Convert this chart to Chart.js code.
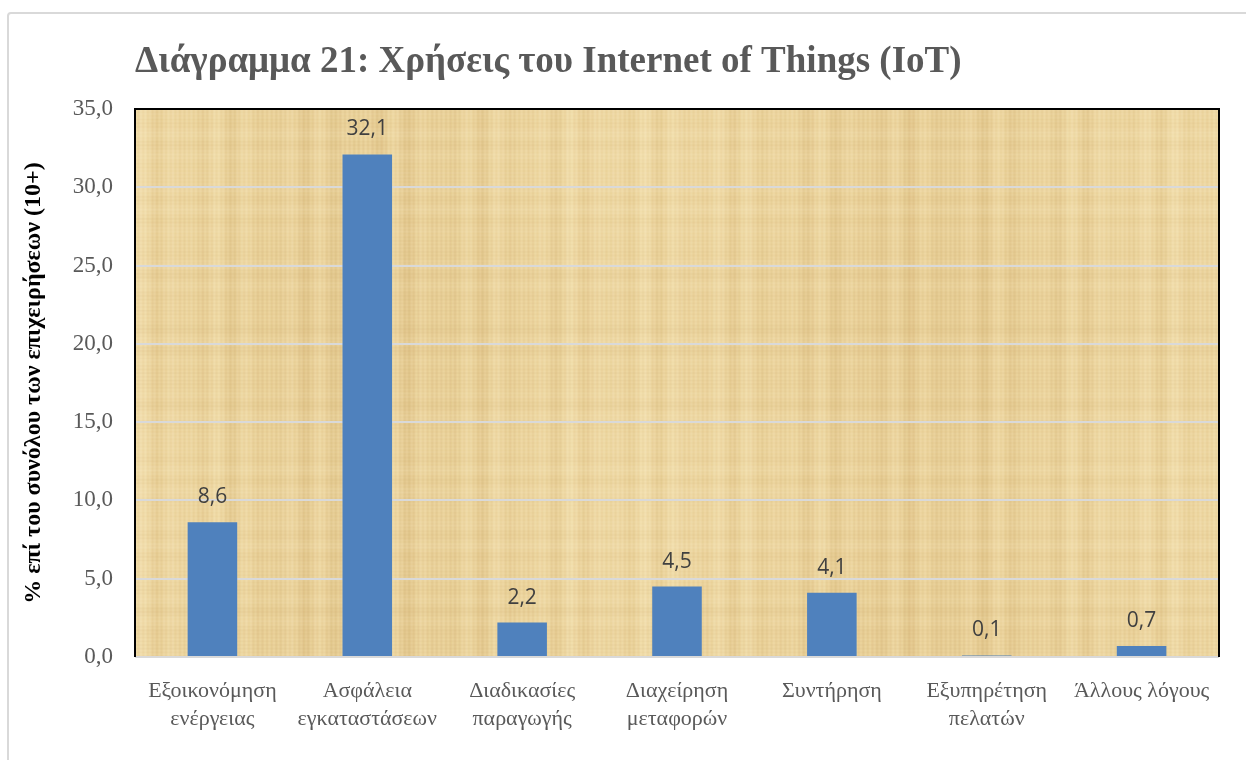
<!DOCTYPE html>
<html>
<head>
<meta charset="utf-8">
<title>Διάγραμμα 21</title>
<script src="https://cdn.jsdelivr.net/npm/chart.js@4.4.1/dist/chart.umd.min.js"></script>
<style>
    html, body { margin: 0; padding: 0; background: #fff; overflow: hidden; }
    #wrap { position: relative; width: 1246px; height: 760px; }
    #frame {
        position: absolute; left: 7px; top: 12px; width: 1300px; height: 800px;
        border: 2px solid #d9d9d9; border-radius: 4px; box-sizing: border-box;
    }
    #chart { position: absolute; left: 0; top: 0; }
</style>
</head>
<body>
<div id="wrap">
    <div id="frame"></div>
    <canvas id="chart" width="1246" height="760"></canvas>
</div>
<script>
// Data
const categories = [
    ['Εξοικονόμηση', 'ενέργειας'],
    ['Ασφάλεια', 'εγκαταστάσεων'],
    ['Διαδικασίες', 'παραγωγής'],
    ['Διαχείρηση', 'μεταφορών'],
    'Συντήρηση',
    ['Εξυπηρέτηση', 'πελατών'],
    'Άλλους λόγους'
];
const shares = [8.6, 32.1, 2.2, 4.5, 4.1, 0.1, 0.7];
const yTickLabels = ['0,0', '5,0', '10,0', '15,0', '20,0', '25,0', '30,0', '35,0'];

const SERIF = "'Liberation Serif', 'Times New Roman', serif";
const SANS = "'Open Sans', 'Liberation Sans', sans-serif";

// papyrus-like background for the plot area (deterministic fibres, no randomness)
function makePapyrus(w, h) {
    const c = document.createElement('canvas');
    c.width = w; c.height = h;
    const g = c.getContext('2d');
    g.fillStyle = '#ebd39c';
    g.fillRect(0, 0, w, h);
    // vertical fibres, fine grain
    for (let x = 0; x < w; x++) {
        const s = 0.55 * Math.sin(x * 0.213) * Math.sin(x * 0.037 + 1.3)
            + 0.3 * Math.sin(x * 1.37 + 0.4) + 0.3 * Math.sin(x * 0.0113 + 2.1);
        if (s > 0) g.fillStyle = 'rgba(252, 240, 200, ' + (0.38 * s).toFixed(3) + ')';
        else g.fillStyle = 'rgba(185, 142, 72, ' + (-0.2 * s).toFixed(3) + ')';
        g.fillRect(x, 0, 1, h);
    }
    // horizontal weave
    for (let y = 0; y < h; y++) {
        const s = 0.5 * Math.sin(y * 0.29 + 0.7) * Math.sin(y * 0.047)
            + 0.3 * Math.sin(y * 1.71) + 0.2 * Math.sin(y * 0.019 + 0.5);
        if (s > 0) g.fillStyle = 'rgba(255, 246, 215, ' + (0.16 * s).toFixed(3) + ')';
        else g.fillStyle = 'rgba(180, 138, 68, ' + (-0.1 * s).toFixed(3) + ')';
        g.fillRect(0, y, w, 1);
    }
    return c;
}

const plotDecor = {
    id: 'plotDecor',
    beforeDraw(chart) {
        const { ctx, chartArea: a } = chart;
        if (!chart._papyrus || chart._papyrus.width !== Math.round(a.width)) {
            chart._papyrus = makePapyrus(Math.round(a.width), Math.round(a.height));
        }
        ctx.drawImage(chart._papyrus, a.left, a.top, a.width, a.height);
    },
    afterDraw(chart) {
        const { ctx, chartArea: a } = chart;
        ctx.save();
        ctx.strokeStyle = '#000';
        ctx.lineWidth = 2;
        ctx.beginPath();
        ctx.moveTo(a.left, a.bottom);
        ctx.lineTo(a.left, a.top);
        ctx.lineTo(a.right, a.top);
        ctx.lineTo(a.right, a.bottom);
        ctx.stroke();
        ctx.restore();
    }
};

const valueLabels = {
    id: 'valueLabels',
    afterDatasetsDraw(chart) {
        const ctx = chart.ctx;
        const meta = chart.getDatasetMeta(0);
        ctx.save();
        ctx.font = '21px ' + SANS;
        ctx.fillStyle = '#404040';
        ctx.textAlign = 'center';
        ctx.textBaseline = 'middle';
        meta.data.forEach((bar, i) => {
            const txt = shares[i].toFixed(1).replace('.', ',');
            ctx.fillText(txt, bar.x, bar.y - 25);
        });
        ctx.restore();
    }
};

const ctx = document.getElementById('chart').getContext('2d');
new Chart(ctx, {
    type: 'bar',
    data: {
        labels: categories,
        datasets: [{
            data: shares,
            backgroundColor: '#4f81bd',
            borderWidth: 0,
            barPercentage: 0.32,
            categoryPercentage: 1.0
        }]
    },
    options: {
        responsive: false,
        animation: false,
        layout: { padding: { left: 0, right: 27, top: 0, bottom: 0 } },
        plugins: {
            legend: { display: false },
            tooltip: { enabled: false },
            title: {
                display: true,
                text: 'Διάγραμμα 21: Χρήσεις του Internet of Things (IoT)',
                align: 'start',
                fullSize: false,
                color: '#595959',
                font: { family: SERIF, size: 37, weight: 'bold', lineHeight: 1.2 },
                padding: { top: 40, bottom: 24.6 }
            }
        },
        scales: {
            x: {
                grid: { display: false },
                border: { display: false },
                ticks: {
                    color: '#595959',
                    padding: 12,
                    maxRotation: 0,
                    autoSkip: false,
                    font: { family: SERIF, size: 22, lineHeight: '28px' }
                },
                afterFit(scale) { scale.height = 103; }
            },
            y: {
                min: 0,
                max: 35,
                ticks: {
                    stepSize: 5,
                    color: '#595959',
                    padding: 22,
                    font: { family: SERIF, size: 23 },
                    callback: (value, index) => yTickLabels[index]
                },
                grid: {
                    color: '#d9d9d9',
                    lineWidth: 2,
                    drawTicks: false
                },
                border: { display: false },
                title: {
                    display: true,
                    text: '% επί του συνόλου των επιχειρήσεων (10+)',
                    color: '#000',
                    font: { family: SERIF, size: 24, weight: 'bold', lineHeight: 1.2 },
                    padding: { top: 19, bottom: 0 }
                },
                afterFit(scale) { scale.width = 135; }
            }
        }
    },
    plugins: [plotDecor, valueLabels]
});
</script>
</body>
</html>
